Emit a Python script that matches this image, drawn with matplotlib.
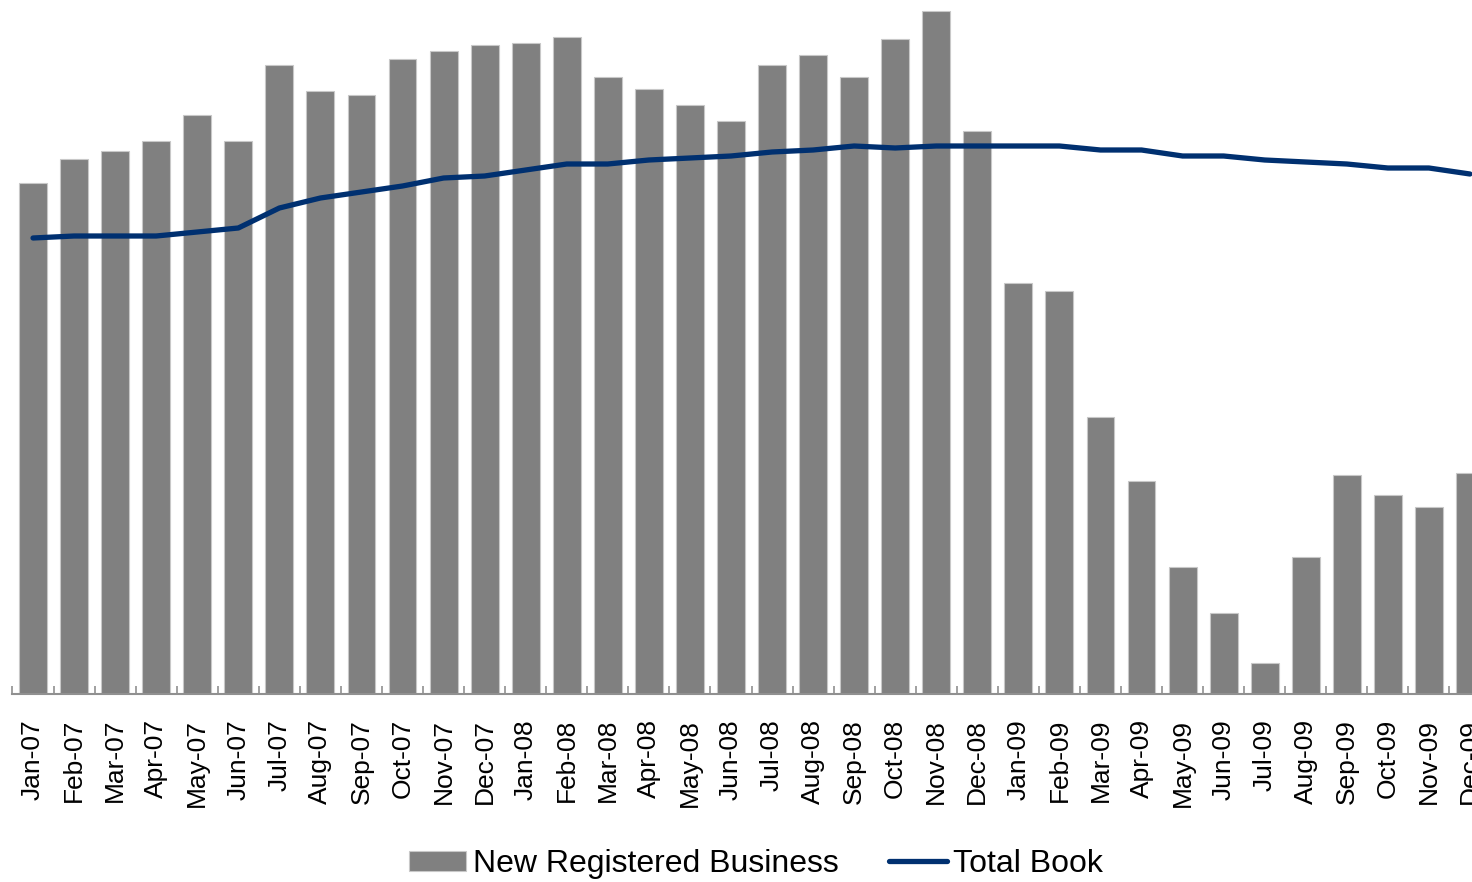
import numpy as np
import matplotlib
matplotlib.use("Agg")
import matplotlib.pyplot as plt

months = ["Jan-07", "Feb-07", "Mar-07", "Apr-07", "May-07", "Jun-07",
          "Jul-07", "Aug-07", "Sep-07", "Oct-07", "Nov-07", "Dec-07",
          "Jan-08", "Feb-08", "Mar-08", "Apr-08", "May-08", "Jun-08",
          "Jul-08", "Aug-08", "Sep-08", "Oct-08", "Nov-08", "Dec-08",
          "Jan-09", "Feb-09", "Mar-09", "Apr-09", "May-09", "Jun-09",
          "Jul-09", "Aug-09", "Sep-09", "Oct-09", "Nov-09", "Dec-09"]

# values (arbitrary units, no y scale shown)
new_business = [511, 535, 543, 553, 579, 553,
                629, 603, 599, 635, 643, 649,
                651, 657, 617, 605, 589, 573,
                629, 639, 617, 655, 683, 563,
                411, 403, 277, 213, 127, 81,
                31, 137, 219, 199, 187, 221]

total_book = [456, 458, 458, 458, 462, 466,
              486, 496, 502, 508, 516, 518,
              524, 530, 530, 534, 536, 538,
              542, 544, 548, 546, 548, 548,
              548, 548, 544, 544, 538, 538,
              534, 532, 530, 526, 526, 520]

plt.rcParams['font.family'] = ['Liberation Sans', 'DejaVu Sans']

fig = plt.figure(figsize=(14.72, 8.82), dpi=100)
ax = fig.add_axes([12.5 / 1472, 1 - 694 / 882, 1478 / 1472, 694 / 882])

x = np.arange(len(months))
bars = ax.bar(x, new_business, width=0.68, color='#808080', edgecolor='#c8c8c8',
              linewidth=0.8, label='New Registered Business', zorder=2)
line, = ax.plot(x, total_book, color='#003070', linewidth=3.8,
                solid_capstyle='round', solid_joinstyle='round',
                label='Total Book', zorder=3)

ax.set_xlim(-0.5, 35.5)
ax.set_ylim(0, 694)

# ticks sit between categories, labels centred on them
ax.set_xticks(x - 0.5, minor=False)
ax.set_xticklabels([])
ax.set_xticks(x, minor=True)
ax.set_xticklabels(months, minor=True, rotation=90, fontsize=19)
ax.tick_params(axis='x', which='major', direction='in', length=6,
               color='#909090', width=1.2)
ax.tick_params(axis='x', which='minor', length=0, pad=18)
ax.set_yticks([])

for side in ['top', 'right', 'left']:
    ax.spines[side].set_visible(False)
ax.spines['bottom'].set_color('#909090')
ax.spines['bottom'].set_linewidth(1.5)

fig.legend([bars, line], ['New Registered Business', 'Total Book'],
           loc='center', bbox_to_anchor=(756 / 1472, 1 - 864 / 882),
           ncol=2, frameon=False, fontsize=23, handlelength=1.8,
           handleheight=0.6, handletextpad=0.2, columnspacing=1.6)

fig.savefig("out.png", dpi=100)
